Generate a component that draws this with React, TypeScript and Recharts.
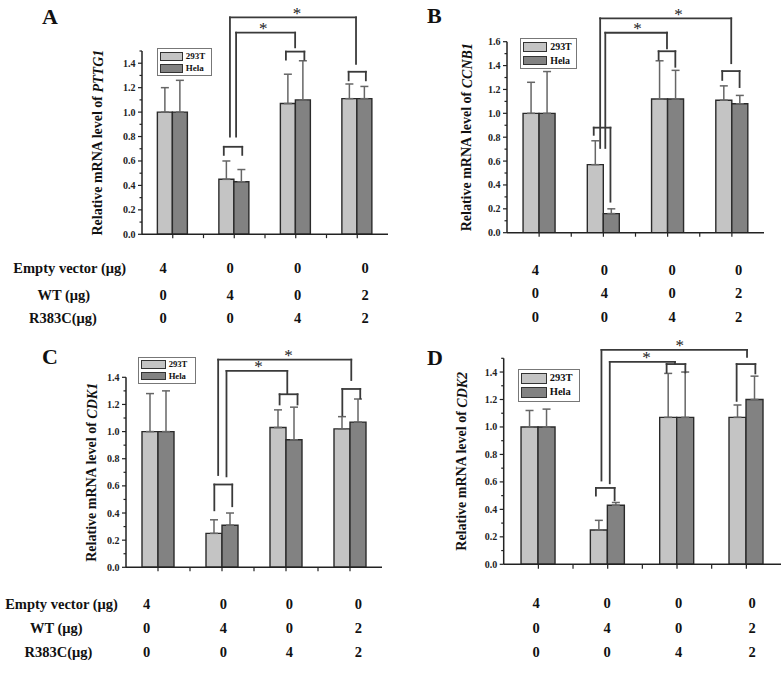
import {
  BarChart, Bar, XAxis, YAxis, ErrorBar, ReferenceLine, ReferenceDot, Legend,
} from "recharts";

const SERIF = '"Liberation Serif", "Times New Roman", serif';

const categories = ["Vector", "WT", "R383C", "WT+R383C"];
// centre of each group on a 0..4 group scale
const groupPos = [0.5, 1.5, 2.5, 3.5];
const seriesNames = ["293T", "Hela"];
const seriesColors = ["#c4c4c4", "#828282"];

// PTTG1
const pttg1T = [1.0, 0.45, 1.07, 1.11];
const pttg1TErr = [0.2, 0.15, 0.24, 0.12];
const pttg1H = [1.0, 0.43, 1.1, 1.11];
const pttg1HErr = [0.26, 0.1, 0.32, 0.1];

// CCNB1
const ccnb1T = [1.0, 0.57, 1.12, 1.11];
const ccnb1TErr = [0.26, 0.2, 0.32, 0.12];
const ccnb1H = [1.0, 0.16, 1.12, 1.08];
const ccnb1HErr = [0.35, 0.04, 0.24, 0.07];

// CDK1
const cdk1T = [1.0, 0.25, 1.03, 1.02];
const cdk1TErr = [0.28, 0.1, 0.13, 0.09];
const cdk1H = [1.0, 0.31, 0.94, 1.07];
const cdk1HErr = [0.3, 0.09, 0.24, 0.17];

// CDK2
const cdk2T = [1.0, 0.25, 1.07, 1.07];
const cdk2TErr = [0.12, 0.07, 0.32, 0.09];
const cdk2H = [1.0, 0.43, 1.07, 1.2];
const cdk2HErr = [0.13, 0.02, 0.33, 0.17];

// y ticks (labelled every 0.2)
const ticks14 = [0, 0.1, 0.2, 0.3, 0.4, 0.5, 0.6, 0.7, 0.8, 0.9, 1.0, 1.1, 1.2, 1.3, 1.4];
const ticks15 = [...ticks14, 1.5];
const ticks16 = [...ticks15, 1.6];
// x tick marks: group centres and group boundaries
const xTicks = [0.5, 1, 1.5, 2, 2.5, 3, 3.5];

// significance brackets, [position on 0..4 group scale, value]
type Pt = [number, number];
const pttg1Brackets: Pt[][] = [
  [[1.33, 0.65], [1.33, 0.716], [1.63, 0.716], [1.63, 0.65]],
  [[1.53, 0.8], [1.53, 1.65], [2.49, 1.65], [2.49, 1.53]],
  [[1.43, 0.8], [1.43, 1.775], [3.48, 1.775], [3.48, 1.395]],
  [[2.34, 1.43], [2.34, 1.495], [2.64, 1.495], [2.64, 1.43]],
  [[3.36, 1.26], [3.36, 1.33], [3.64, 1.33], [3.64, 1.26]],
];
const pttg1Stars: Pt[] = [[1.97, 1.65], [2.52, 1.775]];

const ccnb1Brackets: Pt[][] = [
  [[1.35, 0.82], [1.35, 0.88], [1.61, 0.88], [1.61, 0.26]],
  [[1.53, 0.71], [1.53, 1.675], [2.49, 1.675], [2.49, 1.545]],
  [[1.45, 0.71], [1.45, 1.796], [3.49, 1.796], [3.49, 1.42]],
  [[2.36, 1.45], [2.36, 1.52], [2.62, 1.52], [2.62, 1.39]],
  [[3.35, 1.28], [3.35, 1.354], [3.62, 1.354], [3.62, 1.22]],
];
const ccnb1Stars: Pt[] = [[2.03, 1.675], [2.67, 1.796]];

const cdk1Brackets: Pt[][] = [
  [[1.38, 0.42], [1.38, 0.61], [1.66, 0.61], [1.66, 0.45]],
  [[1.57, 0.67], [1.57, 1.447], [2.52, 1.447], [2.52, 1.28]],
  [[1.44, 0.68], [1.44, 1.53], [3.52, 1.53], [3.52, 1.38]],
  [[2.4, 1.2], [2.4, 1.275], [2.68, 1.275], [2.68, 1.2]],
  [[3.38, 1.12], [3.38, 1.314], [3.66, 1.314], [3.66, 1.245]],
];
const cdk1Stars: Pt[] = [[2.07, 1.447], [2.54, 1.53]];

const cdk2Brackets: Pt[][] = [
  [[1.33, 0.5], [1.33, 0.556], [1.6, 0.556], [1.6, 0.466]],
  [[1.53, 0.59], [1.53, 1.474], [2.47, 1.474], [2.47, 1.46]],
  [[1.41, 0.61], [1.41, 1.561], [3.51, 1.561], [3.51, 1.51]],
  [[2.35, 1.397], [2.35, 1.458], [2.62, 1.458], [2.62, 1.397]],
  [[3.36, 1.19], [3.36, 1.458], [3.63, 1.458], [3.63, 1.39]],
];
const cdk2Stars: Pt[] = [[2.06, 1.474], [2.54, 1.561]];

// transfection table
const rowLabels = ["Empty vector (μg)", "WT (μg)", "R383C(μg)"];
const emptyVector = [4, 0, 0, 0];
const wtAmount = [0, 4, 0, 2];
const r383cAmount = [0, 0, 4, 2];
const tableRows = [emptyVector, wtAmount, r383cAmount];

const YTick = (props: any) => {
  const { x, y, payload } = props;
  const v = payload.value as number;
  const major = Math.round(v * 10) % 2 === 0;
  return (
    <g>
      <line x1={x - (major ? 4 : 2.5)} x2={x} y1={y} y2={y} stroke="#222" strokeWidth={1.2} />
      {major && (
        <text x={x - 6.5} y={y} dy={3.5} textAnchor="end" fontSize={10} fontWeight="bold" fontFamily={SERIF} fill="#222">
          {v.toFixed(1)}
        </text>
      )}
    </g>
  );
};

const LegendBox = ({ payload, w, h }: any) => {
  const sw = w * 0.42;
  const sh = h * 0.32;
  return (
    <div style={{
      width: w, height: h, boxSizing: "border-box", border: "1px solid #777", background: "#fff",
      display: "flex", flexDirection: "column", justifyContent: "space-around", padding: "1px 2px",
      fontFamily: SERIF, fontWeight: "bold", fontSize: h * 0.32, color: "#111",
    }}>
      {(payload || []).map((p: any) => (
        <div key={p.value} style={{ display: "flex", alignItems: "center", lineHeight: 1 }}>
          <span style={{
            display: "inline-block", width: sw, height: sh, background: p.color,
            border: "1px solid #333", boxSizing: "border-box", marginRight: 3,
          }} />
          {p.value}
        </div>
      ))}
    </div>
  );
};

interface PanelProps {
  left: number;
  top: number;
  margin: { top: number; right: number; bottom: number; left: number };
  gene: string;
  t: number[]; tErr: number[]; h: number[]; hErr: number[];
  yMax: number;
  yTicks: number[];
  brackets: Pt[][];
  stars: Pt[];
  labelGap: number;
  legend: { left: number; top: number; width: number; height: number };
}

const Panel = (p: PanelProps) => {
  const data = categories.map((c, i) => ({
    name: c, pos: groupPos[i], t: p.t[i], tErr: [0, p.tErr[i]], h: p.h[i], hErr: [0, p.hErr[i]],
  }));

  const segments = p.brackets.flatMap((pts, bi) =>
    pts.slice(1).map((b, si) => {
      const a = pts[si];
      return (
        <ReferenceLine
          key={`b${bi}-${si}`}
          segment={[{ x: a[0], y: a[1] }, { x: b[0], y: b[1] }]}
          stroke="#3a3a3a"
          strokeWidth={1.8}
          strokeLinecap="square"
          ifOverflow="visible"
        />
      );
    })
  );

  // short tick marks below the x axis line
  const tickDepth = p.yMax * 0.021;
  const xTickMarks = xTicks.map((x) => (
    <ReferenceLine
      key={`xt${x}`}
      segment={[{ x, y: 0 }, { x, y: -tickDepth }]}
      stroke="#222"
      strokeWidth={1.2}
      ifOverflow="visible"
    />
  ));

  const yLabel = (props: any) => {
    const vb = props.viewBox;
    const cx = vb.x + vb.width - p.labelGap;
    const cy = vb.y + vb.height / 2;
    return (
      <text x={cx} y={cy} transform={`rotate(-90 ${cx} ${cy})`} textAnchor="middle" dominantBaseline="central"
        fontFamily={SERIF} fontWeight="bold" fontSize={14} fill="#111">
        Relative mRNA level of <tspan fontStyle="italic">{p.gene}</tspan>
      </text>
    );
  };

  return (
    <div style={{ position: "absolute", left: p.left, top: p.top }}>
      <BarChart width={392} height={250} data={data} margin={p.margin} barCategoryGap="25%" barGap={0}>
        <XAxis
          dataKey="pos" type="number" domain={[0, 4]} allowDataOverflow ticks={xTicks} interval={0}
          height={10} axisLine={{ stroke: "#222", strokeWidth: 1.5 }} tickLine={false} tick={false}
        />
        <YAxis
          domain={[0, p.yMax]} allowDataOverflow ticks={p.yTicks} interval={0} width={50}
          axisLine={{ stroke: "#222", strokeWidth: 1.5 }} tickLine={false} tickSize={0} tickMargin={0}
          tick={(tp: any) => <YTick {...tp} />}
          label={{ content: yLabel }}
        />
        <Bar dataKey="t" name={seriesNames[0]} fill={seriesColors[0]} stroke="#2a2a2a" strokeWidth={1.4} isAnimationActive={false}>
          <ErrorBar dataKey="tErr" direction="y" width={4} stroke="#666" strokeWidth={1.5} />
        </Bar>
        <Bar dataKey="h" name={seriesNames[1]} fill={seriesColors[1]} stroke="#2a2a2a" strokeWidth={1.4} isAnimationActive={false}>
          <ErrorBar dataKey="hErr" direction="y" width={4} stroke="#666" strokeWidth={1.5} />
        </Bar>
        {xTickMarks}
        {segments}
        {p.stars.map((s, i) => (
          <ReferenceDot
            key={`s${i}`} x={s[0]} y={s[1]} r={0} ifOverflow="visible" stroke="none" fill="none"
            label={{
              content: (lp: any) => {
                const vb = lp.viewBox;
                return (
                  <text x={vb.x + (vb.width || 0) / 2} y={vb.y + (vb.height || 0) / 2 + 1.5} textAnchor="middle"
                    fontFamily={SERIF} fontSize={17} fill="#1a1a1a" stroke="none">*</text>
                );
              },
            }}
          />
        ))}
        <Legend
          layout="vertical" verticalAlign="middle" align="center"
          wrapperStyle={{ left: p.legend.left, top: p.legend.top, width: p.legend.width, height: p.legend.height }}
          content={(lp: any) => <LegendBox payload={lp.payload} w={p.legend.width} h={p.legend.height} />}
        />
      </BarChart>
    </div>
  );
};

interface TableProps {
  labelX?: number[];
  colX: number[];
  rowY: number[];
}

const Table = ({ labelX, colX, rowY }: TableProps) => (
  <g fontFamily={SERIF} fontWeight="bold" fontSize={14.5} fill="#111">
    {labelX && rowLabels.map((l, i) => (
      <text key={l} x={labelX[i]} y={rowY[i]} textAnchor="middle">{l}</text>
    ))}
    {tableRows.map((row, ri) => row.map((v, ci) => (
      <text key={`${ri}-${ci}`} x={colX[ci]} y={rowY[ri]} textAnchor="middle">{v}</text>
    )))}
  </g>
);

export default function App() {
  return (
    <div style={{ position: "absolute", left: 0, top: 0, width: 784, height: 678, background: "#fff", overflow: "hidden" }}>
      <Panel
        left={0} top={0} gene="PTTG1" t={pttg1T} tErr={pttg1TErr} h={pttg1H} hErr={pttg1HErr}
        margin={{ top: 51, right: 4, bottom: 5.7, left: 92 }} yMax={1.5} yTicks={ticks15}
        brackets={pttg1Brackets} stars={pttg1Stars} labelGap={44}
        legend={{ left: 156.7, top: 48.3, width: 55, height: 28 }}
      />
      <Panel
        left={392} top={0} gene="CCNB1" t={ccnb1T} tErr={ccnb1TErr} h={ccnb1H} hErr={ccnb1HErr}
        margin={{ top: 41.7, right: 20, bottom: 7.3, left: 65 }} yMax={1.6} yTicks={ticks16}
        brackets={ccnb1Brackets} stars={ccnb1Stars} labelGap={40}
        legend={{ left: 128.3, top: 38.3, width: 57, height: 31 }}
      />
      <Panel
        left={0} top={330} gene="CDK1" t={cdk1T} tErr={cdk1TErr} h={cdk1H} hErr={cdk1HErr}
        margin={{ top: 47.3, right: 10, bottom: 2.7, left: 76 }} yMax={1.4} yTicks={ticks14}
        brackets={cdk1Brackets} stars={cdk1Stars} labelGap={34}
        legend={{ left: 138.3, top: 26.7, width: 58, height: 27 }}
      />
      <Panel
        left={392} top={330} gene="CDK2" t={cdk2T} tErr={cdk2TErr} h={cdk2H} hErr={cdk2HErr}
        margin={{ top: 28.3, right: 3, bottom: 5.7, left: 61.7 }} yMax={1.5} yTicks={ticks15}
        brackets={cdk2Brackets} stars={cdk2Stars} labelGap={42}
        legend={{ left: 125.7, top: 39, width: 62, height: 33 }}
      />
      <svg width={784} height={678} style={{ position: "absolute", left: 0, top: 0, pointerEvents: "none" }}>
        <g fontFamily={SERIF} fontWeight="bold" fontSize={22} fill="#111">
          <text x={42} y={23.5}>A</text>
          <text x={427} y={23}>B</text>
          <text x={42} y={363.5}>C</text>
          <text x={427} y={365}>D</text>
        </g>
        <Table labelX={[69.7, 63.8, 63]} colX={[163, 230, 297.7, 365]} rowY={[273.3, 300, 323.3]} />
        <Table colX={[535.3, 604.3, 672, 738.7]} rowY={[275, 298.3, 322.3]} />
        <Table labelX={[61.5, 56.3, 58.5]} colX={[146.7, 223.3, 289.3, 358.3]} rowY={[609.3, 633.3, 657.3]} />
        <Table colX={[536, 607, 678.7, 752]} rowY={[608.3, 632.7, 656.7]} />
      </svg>
    </div>
  );
}
